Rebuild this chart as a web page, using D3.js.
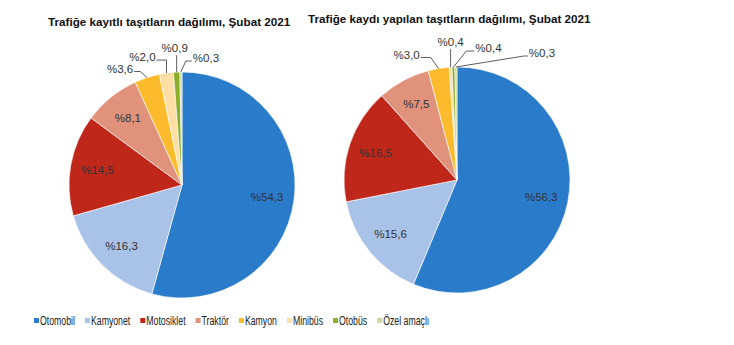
<!DOCTYPE html>
<html>
<head>
<meta charset="utf-8">
<script src="https://cdn.jsdelivr.net/npm/d3@7"></script>
<style>
  body { margin: 0; background: #fff; }
  svg { display: block; }
</style>
</head>
<body>
<div id="chart"></div>
<script>
// categories and values
const categories = ["Otomobil", "Kamyonet", "Motosiklet", "Traktör", "Kamyon", "Minibüs", "Otobüs", "Özel amaçlı"];
const kayitliValues = [54.3, 16.3, 14.5, 8.1, 3.6, 2.0, 0.9, 0.3];
const kaydiValues = [56.3, 15.6, 16.5, 7.5, 3.0, 0.4, 0.4, 0.3];
const titles = ["Trafiğe kayıtlı taşıtların dağılımı, Şubat 2021", "Trafiğe kaydı yapılan taşıtların dağılımı, Şubat 2021"];

const colors = ["#2a7cca", "#a9c2e8", "#c0271b", "#e0927b", "#fbbb2c", "#fddfa6", "#8cae2a", "#c9d99c"];

const width = 734, height = 345;
const svg = d3.select("#chart").append("svg")
    .attr("width", width)
    .attr("height", height);

const color = d3.scaleOrdinal().domain(categories).range(colors);
const fmt = v => "%" + v.toFixed(1).replace(".", ",");

// outside label placement for the small slices (offset of text from slice edge, elbow length)
const leftOutside = {
  4: {dx: -27, dy: -9, elbow: 6},
  5: {dx: -24, dy: -16, elbow: 10},
  6: {dx: -2, dy: -24, elbow: 0},
  7: {dx: 25, dy: -14, elbow: 6}
};
const rightOutside = {
  4: {dx: -32, dy: -14, elbow: 10},
  5: {dx: 0, dy: -25, elbow: 0},
  6: {dx: 35, dy: -19, elbow: 8},
  7: {dx: 86, dy: -14, elbow: 4}
};

function drawPie(values, cx, cy, r, title, titleX, titleY, outside) {
  const g = svg.append("g").attr("transform", `translate(${cx},${cy})`);

  svg.append("text")
      .attr("x", titleX)
      .attr("y", titleY)
      .attr("font-family", "Liberation Sans, Arial, sans-serif")
      .attr("font-size", "11.7px")
      .attr("font-weight", "bold")
      .attr("fill", "#111")
      .text(title);

  const pie = d3.pie().sort(null).value(d => d.value);
  const arcs = pie(values.map((v, i) => ({name: categories[i], value: v, i: i})));
  const arc = d3.arc().innerRadius(0).outerRadius(r);
  const labelArc = d3.arc().innerRadius(r * 0.76).outerRadius(r * 0.76);
  const edgeArc = d3.arc().innerRadius(r).outerRadius(r);

  g.selectAll("path.slice")
    .data(arcs)
    .join("path")
      .attr("class", "slice")
      .attr("fill", d => color(d.data.name))
      .attr("stroke", "#fff")
      .attr("stroke-width", 0.6)
      .attr("d", arc);

  // inside labels
  g.selectAll("text.inside")
    .data(arcs.filter(d => !outside[d.data.i]))
    .join("text")
      .attr("class", "inside")
      .attr("transform", d => `translate(${labelArc.centroid(d)})`)
      .attr("text-anchor", "middle")
      .attr("dy", "0.35em")
      .attr("font-family", "Liberation Sans, Arial, sans-serif")
      .attr("font-size", "11.5px")
      .attr("fill", "#333")
      .text(d => fmt(d.data.value));

  // outside labels with leader lines
  const small = arcs.filter(d => outside[d.data.i]);
  small.forEach(d => {
    const o = outside[d.data.i];
    const [ex, ey] = edgeArc.centroid(d);
    const tx = ex + o.dx, ty = ey + o.dy;
    const txt = g.append("text")
        .attr("x", tx)
        .attr("y", ty)
        .attr("text-anchor", "middle")
        .attr("dy", "0.35em")
        .attr("font-family", "Liberation Sans, Arial, sans-serif")
        .attr("font-size", "11.5px")
        .attr("fill", "#333")
        .text(fmt(d.data.value));
    const w = txt.node().getComputedTextLength();
    let pts;
    if (o.elbow === 0) {
      pts = [[ex, ey], [ex, ty + 7]];
    } else if (o.dx < 0) {
      const sx = tx + w / 2 + 1;
      pts = [[ex, ey], [sx + o.elbow, ty + 3], [sx, ty + 3]];
    } else {
      const sx = tx - w / 2 - 1;
      pts = [[ex, ey], [sx - o.elbow, ty + 3], [sx, ty + 3]];
    }
    g.append("path")
        .attr("d", d3.line()(pts))
        .attr("fill", "none")
        .attr("stroke", "#333")
        .attr("stroke-width", 0.8);
  });
}

drawPie(kayitliValues, 182, 185, 113, titles[0], 48, 26, leftOutside);
drawPie(kaydiValues, 457, 180, 113, titles[1], 308, 23, rightOutside);

// legend (condensed text, like the original narrow font)
const squeeze = 0.7;
const legend = svg.append("g").attr("transform", "translate(34,321)");
let lx = 0;
categories.forEach((c, i) => {
  const item = legend.append("g").attr("transform", `translate(${lx},0)`);
  item.append("rect")
      .attr("x", 0).attr("y", -3)
      .attr("width", 5).attr("height", 5)
      .attr("fill", color(c));
  const t = item.append("text")
      .attr("transform", `translate(6,0) scale(${squeeze},1)`)
      .attr("dy", "0.35em")
      .attr("font-family", "Liberation Sans, Arial, sans-serif")
      .attr("font-size", "12.5px")
      .attr("fill", "#222")
      .text(c);
  lx += 6 + t.node().getComputedTextLength() * squeeze + 10;
});
</script>
</body>
</html>
